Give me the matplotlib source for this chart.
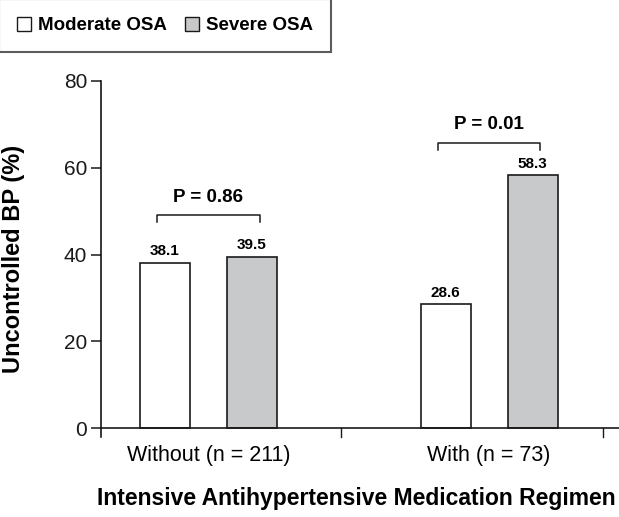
import matplotlib
matplotlib.use("Agg")
import matplotlib.pyplot as plt
from matplotlib.patches import Patch
import numpy as np

plt.rcParams['font.family'] = ['Liberation Sans', 'DejaVu Sans']

groups = ["Without (n = 211)", "With (n = 73)"]
series = ["Moderate OSA", "Severe OSA"]
moderate = [38.1, 28.6]
severe = [39.5, 58.3]
p_values = ["P = 0.86", "P = 0.01"]
y_ticks = [0, 20, 40, 60, 80]
ylabel = "Uncontrolled BP (%)"
xlabel = "Intensive Antihypertensive Medication Regimen"

colors = ["white", "#c8c9cb"]
edge = "#1a1a1a"

fig = plt.figure(figsize=(6.19, 5.17), dpi=100)
ax = fig.add_axes([101/619, 1-437/517, 1-101/619, (437-81)/517])

x = np.arange(len(groups))
w = 0.178
off = 0.155
b1 = ax.bar(x - off, moderate, w, color=colors[0], edgecolor=edge, linewidth=1.2, zorder=3)
b2 = ax.bar(x + off, severe, w, color=colors[1], edgecolor=edge, linewidth=1.2, zorder=3)

for bars, vals in ((b1, moderate), (b2, severe)):
    for rect, v in zip(bars, vals):
        ax.text(rect.get_x() + rect.get_width()/2, v + 1.0, f"{v}", ha="center", va="bottom",
                fontsize=11, fontweight="bold")

# significance brackets
for i, p in enumerate(p_values):
    top = max(moderate[i], severe[i])
    yb = top + 9.5 if i == 0 else top + 7.5
    x0 = x[i] - off - 0.028
    x1 = x[i] + off + 0.028
    ax.plot([x0, x0, x1, x1], [yb - 1.6, yb, yb, yb - 1.6], color=edge, lw=1.1, zorder=4)
    ax.text(x[i], yb + 2.2, p, ha="center", va="bottom", fontsize=13.5, fontweight="bold")

ax.set_xlim(-0.383, 1.463)
ax.set_ylim(-2.07, 80)
ax.set_yticks(y_ticks)
ax.tick_params(axis="y", direction="out", length=7, width=1.1, labelsize=15, pad=3, colors="#1a1a1a")
ax.set_xticks(x)
ax.set_xticklabels(groups, fontsize=15.5)
ax.tick_params(axis="x", length=0, pad=6)

for s in ("top", "right", "bottom"):
    ax.spines[s].set_visible(False)
ax.spines["left"].set_linewidth(1.1)
ax.spines["left"].set_bounds(-2.07, 80)
ax.axhline(0, color=edge, lw=1.2, zorder=5)
for mx in [0.472, 1.406]:
    ax.plot([mx, mx], [0, -2.07], color=edge, lw=1.0, clip_on=False)

ax.set_ylabel(ylabel, fontsize=17, fontweight="bold")
ax.yaxis.set_label_coords(-0.147, 0.5)
fig.text(0.995, 1-498/517, xlabel, ha="right", va="center", fontsize=16.5, fontweight="bold")

handles = [Patch(facecolor=colors[0], edgecolor=edge, linewidth=1.0),
           Patch(facecolor=colors[1], edgecolor=edge, linewidth=1.0)]
leg = fig.legend(handles, series, loc="upper left", bbox_to_anchor=(-0.002, 1.002),
                 ncol=2, prop={'weight': 'bold', 'size': 13.5}, frameon=True, fancybox=False,
                 edgecolor="#333333", handlelength=0.75, handleheight=0.75, handletextpad=0.37,
                 columnspacing=1.0, borderpad=0.95, borderaxespad=0.0)
leg.get_frame().set_linewidth(1.5)

fig.savefig("out.png", dpi=100)
